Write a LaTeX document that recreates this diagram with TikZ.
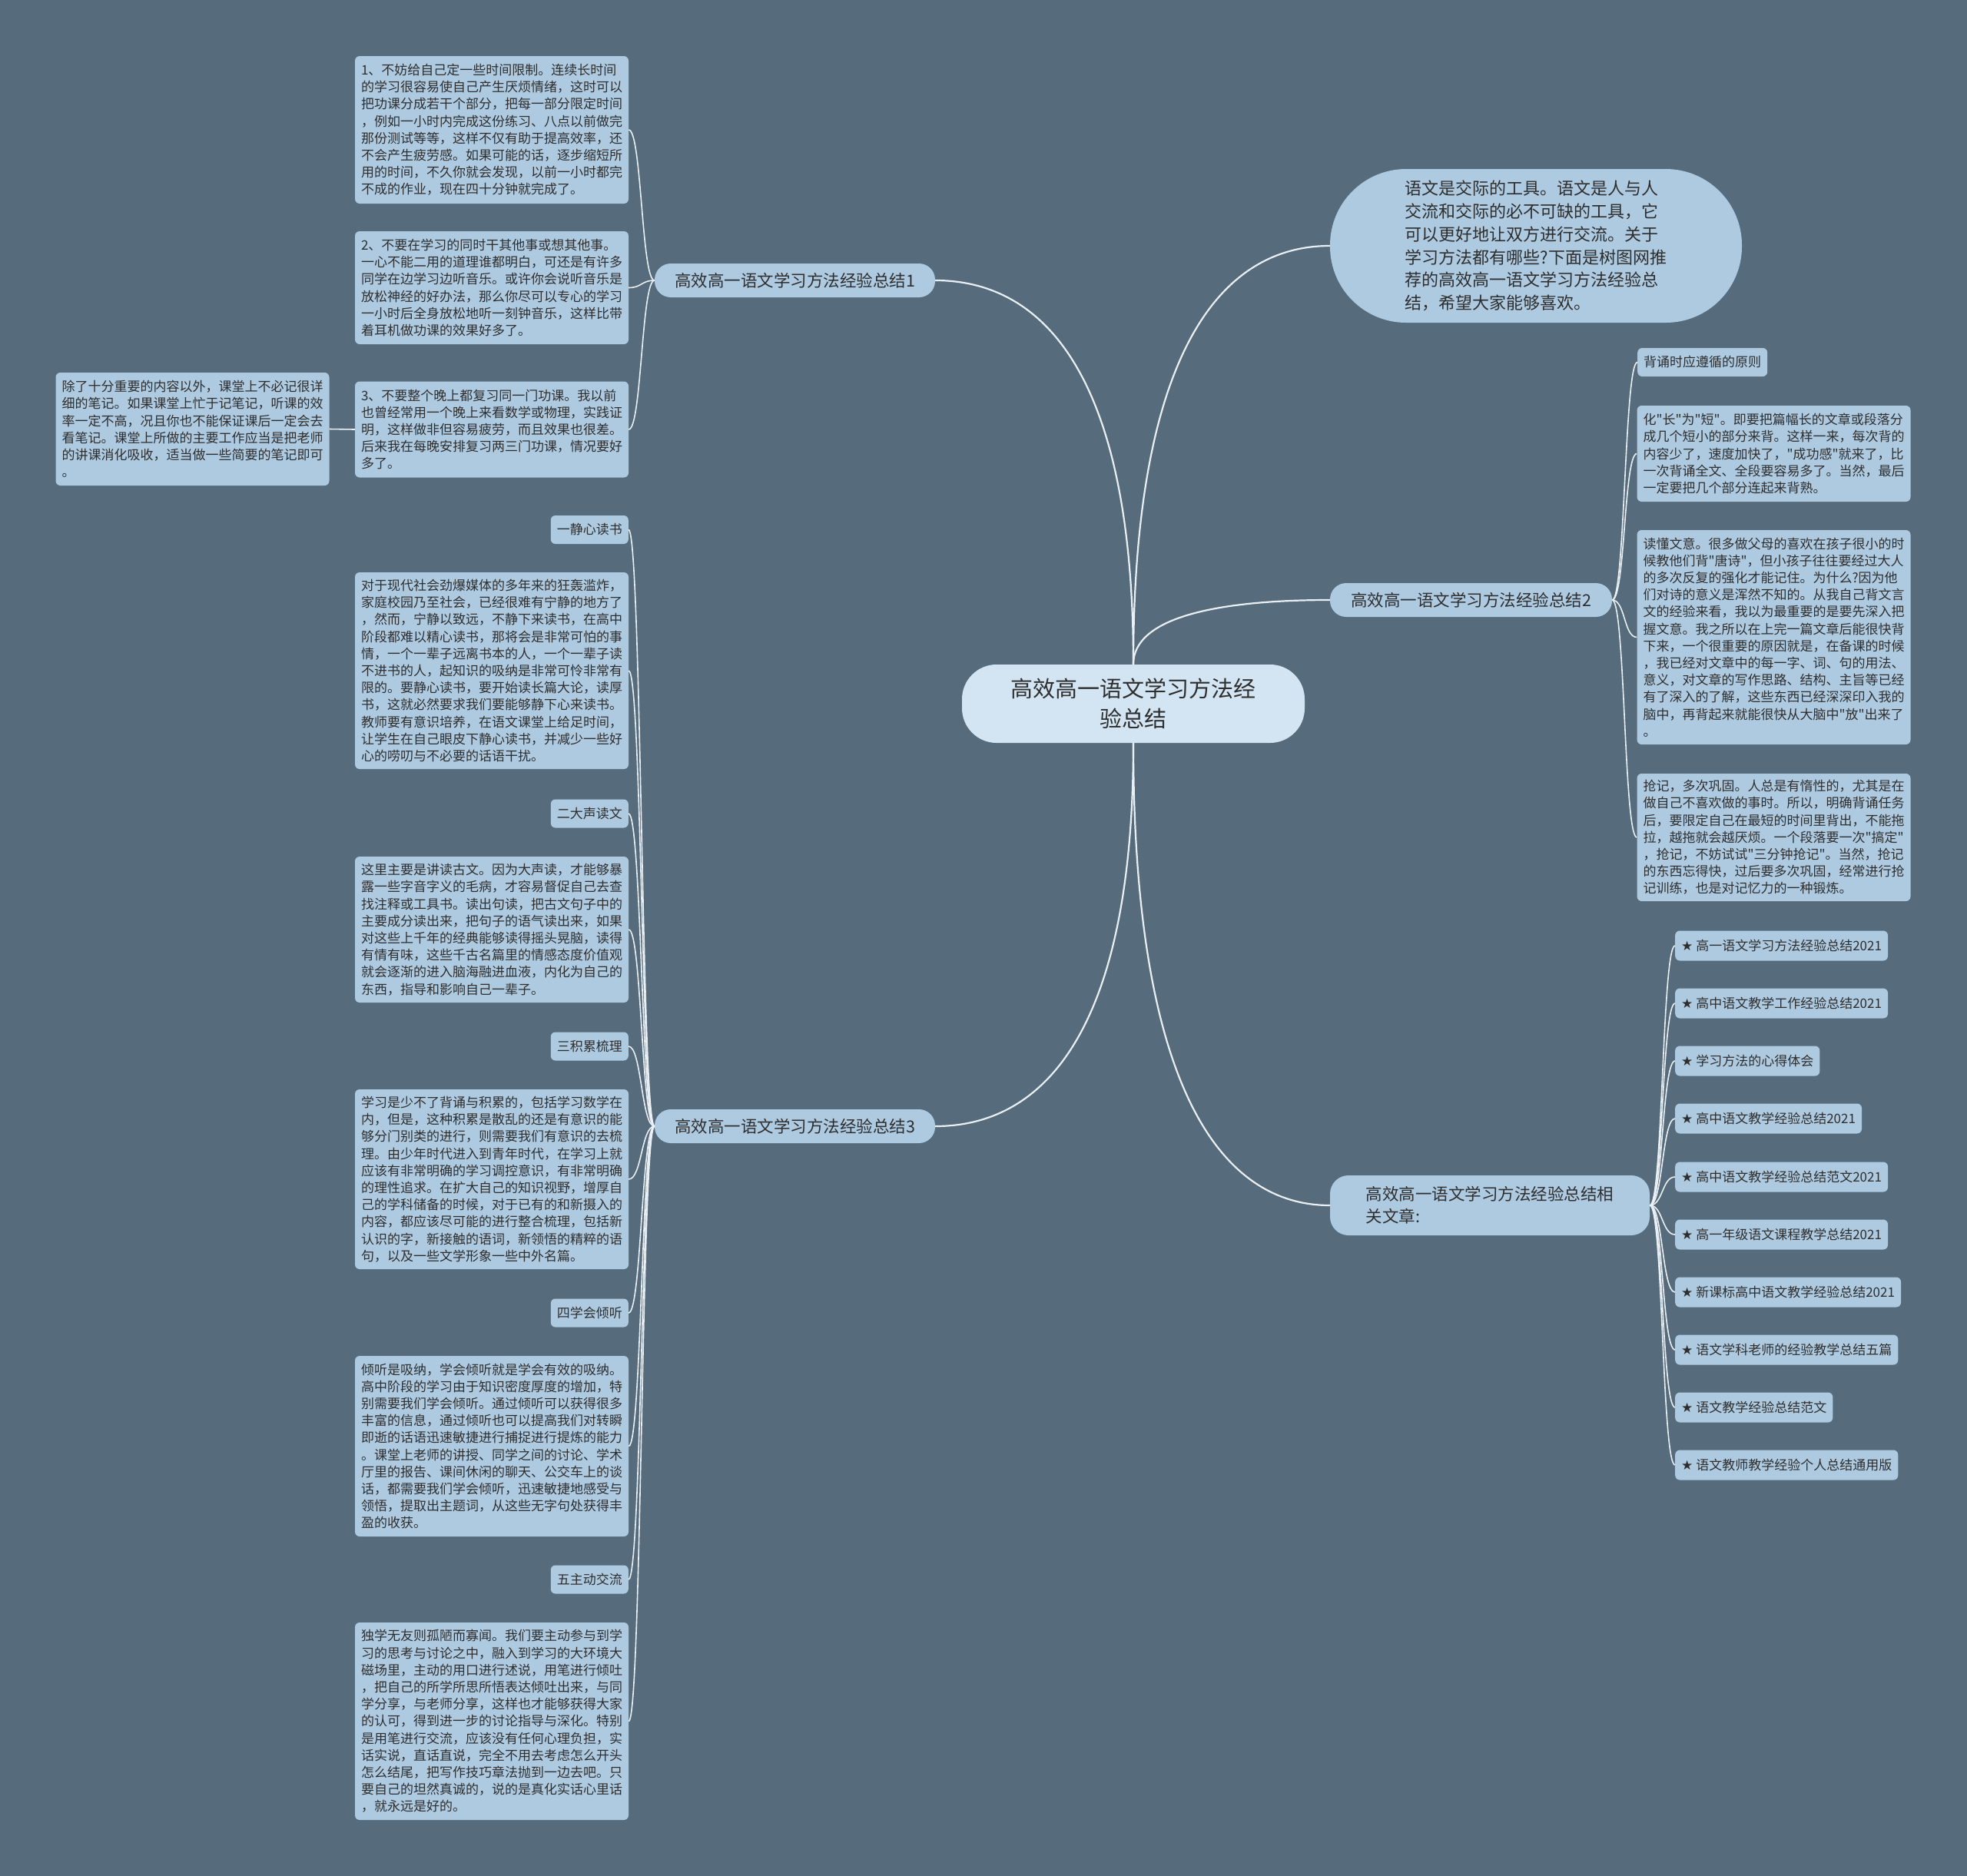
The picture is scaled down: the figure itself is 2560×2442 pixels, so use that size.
\documentclass[tikz,border=0pt]{standalone}
\usepackage{fontspec}
\setmainfont{Noto Sans CJK SC}[Ligatures=TeXOff]
\newfontfamily\symf{DejaVu Sans}
\usetikzlibrary{calc}
\definecolor{bgc}{HTML}{566B7B}
\definecolor{nodec}{HTML}{AECAE0}
\definecolor{cnode}{HTML}{D3E5F2}
\definecolor{txtc}{HTML}{2E2E2E}
\definecolor{lc}{HTML}{E9EFF3}
\begin{document}
\begin{tikzpicture}[x=1pt,y=-1pt,
  conn/.style={draw=lc, line width=2.2pt},
  conn2/.style={draw=lc, line width=1.6pt},
  leaf/.style={fill=nodec, rounded corners=6pt, text=txtc, font={\fontsize{17}{22.2}\selectfont}, align=left, inner xsep=8pt, inner ysep=0pt},
  head/.style={leaf, minimum height=37pt},
  item/.style={leaf, minimum height=39pt, anchor=west},
  branch/.style={fill=nodec, rounded corners=21pt, text=txtc, font={\fontsize{21.5}{29}\selectfont}, inner sep=0pt, align=left},
  centre/.style={fill=cnode, rounded corners=45pt, text=txtc, font={\fontsize{29}{39}\selectfont}, inner sep=0pt, align=center}
]
\fill[bgc] (0,0) rectangle (2560,2442);
\useasboundingbox (0,0) rectangle (2560,2442);

% centre
\node[centre, minimum width=446pt, minimum height=102pt] (C) at (1475,916) {高效高一语文学习方法经\\验总结};

% level 1
\node[branch, minimum width=365pt, minimum height=44pt] (B1) at (1034.5,365) {高效高一语文学习方法经验总结1};
\node[branch, minimum width=365pt, minimum height=44pt] (B3) at (1034.5,1466) {高效高一语文学习方法经验总结3};
\node[branch, minimum width=367pt, minimum height=44pt] (B2) at (1914.5,781) {高效高一语文学习方法经验总结2};
\node[branch, minimum width=416pt, minimum height=78pt, rounded corners=24pt] (B4) at (1939,1569) {高效高一语文学习方法经验总结相\\关文章:};
\node[branch, minimum width=536pt, minimum height=200pt, rounded corners=99pt, font={\fontsize{22}{29.8}\selectfont}] (IN) at (1999,320) {语文是交际的工具。语文是人与人\\交流和交际的必不可缺的工具，它\\可以更好地让双方进行交流。关于\\学习方法都有哪些?下面是树图网推\\荐的高效高一语文学习方法经验总\\结，希望大家能够喜欢。};

% B1 children
\node[leaf, minimum width=356pt, minimum height=192pt] (L1a) at (640,169) {1、不妨给自己定一些时间限制。连续长时间\\的学习很容易使自己产生厌烦情绪，这时可以\\把功课分成若干个部分，把每一部分限定时间\\，例如一小时内完成这份练习、八点以前做完\\那份测试等等，这样不仅有助于提高效率，还\\不会产生疲劳感。如果可能的话，逐步缩短所\\用的时间，不久你就会发现，以前一小时都完\\不成的作业，现在四十分钟就完成了。};
\node[leaf, minimum width=356pt, minimum height=147pt] (L1b) at (640,374.5) {2、不要在学习的同时干其他事或想其他事。\\一心不能二用的道理谁都明白，可还是有许多\\同学在边学习边听音乐。或许你会说听音乐是\\放松神经的好办法，那么你尽可以专心的学习\\一小时后全身放松地听一刻钟音乐，这样比带\\着耳机做功课的效果好多了。};
\node[leaf, minimum width=356pt, minimum height=125pt] (L1c) at (640,559) {3、不要整个晚上都复习同一门功课。我以前\\也曾经常用一个晚上来看数学或物理，实践证\\明，这样做非但容易疲劳，而且效果也很差。\\后来我在每晚安排复习两三门功课，情况要好\\多了。};
\node[leaf, minimum width=356pt, minimum height=147pt] (LL) at (250.5,558.5) {除了十分重要的内容以外，课堂上不必记很详\\细的笔记。如果课堂上忙于记笔记，听课的效\\率一定不高，况且你也不能保证课后一定会去\\看笔记。课堂上所做的主要工作应当是把老师\\的讲课消化吸收，适当做一些简要的笔记即可\\。};

% B3 children
\node[head, anchor=east] (H1) at (818,689.5) {一静心读书};
\node[leaf, minimum width=356pt, minimum height=256pt] (T1) at (640,873) {对于现代社会劲爆媒体的多年来的狂轰滥炸，\\家庭校园乃至社会，已经很难有宁静的地方了\\，然而，宁静以致远，不静下来读书，在高中\\阶段都难以精心读书，那将会是非常可怕的事\\情，一个一辈子远离书本的人，一个一辈子读\\不进书的人，起知识的吸纳是非常可怜非常有\\限的。要静心读书，要开始读长篇大论，读厚\\书，这就必然要求我们要能够静下心来读书。\\教师要有意识培养，在语文课堂上给足时间，\\让学生在自己眼皮下静心读书，并减少一些好\\心的唠叨与不必要的话语干扰。};
\node[head, anchor=east] (H2) at (818,1059) {二大声读文};
\node[leaf, minimum width=356pt, minimum height=190pt] (T2) at (640,1210) {这里主要是讲读古文。因为大声读，才能够暴\\露一些字音字义的毛病，才容易督促自己去查\\找注释或工具书。读出句读，把古文句子中的\\主要成分读出来，把句子的语气读出来，如果\\对这些上千年的经典能够读得摇头晃脑，读得\\有情有味，这些千古名篇里的情感态度价值观\\就会逐渐的进入脑海融进血液，内化为自己的\\东西，指导和影响自己一辈子。};
\node[head, anchor=east] (H3) at (818,1362) {三积累梳理};
\node[leaf, minimum width=356pt, minimum height=234pt] (T3) at (640,1535) {学习是少不了背诵与积累的，包括学习数学在\\内，但是，这种积累是散乱的还是有意识的能\\够分门别类的进行，则需要我们有意识的去梳\\理。由少年时代进入到青年时代，在学习上就\\应该有非常明确的学习调控意识，有非常明确\\的理性追求。在扩大自己的知识视野，增厚自\\己的学科储备的时候，对于已有的和新摄入的\\内容，都应该尽可能的进行整合梳理，包括新\\认识的字，新接触的语词，新领悟的精粹的语\\句，以及一些文学形象一些中外名篇。};
\node[head, anchor=east] (H4) at (818,1709) {四学会倾听};
\node[leaf, minimum width=356pt, minimum height=235pt] (T4) at (640,1882.5) {倾听是吸纳，学会倾听就是学会有效的吸纳。\\高中阶段的学习由于知识密度厚度的增加，特\\别需要我们学会倾听。通过倾听可以获得很多\\丰富的信息，通过倾听也可以提高我们对转瞬\\即逝的话语迅速敏捷进行捕捉进行提炼的能力\\。课堂上老师的讲授、同学之间的讨论、学术\\厅里的报告、课间休闲的聊天、公交车上的谈\\话，都需要我们学会倾听，迅速敏捷地感受与\\领悟，提取出主题词，从这些无字句处获得丰\\盈的收获。};
\node[head, anchor=east] (H5) at (818,2056) {五主动交流};
\node[leaf, minimum width=356pt, minimum height=257pt] (T5) at (640,2240.5) {独学无友则孤陋而寡闻。我们要主动参与到学\\习的思考与讨论之中，融入到学习的大环境大\\磁场里，主动的用口进行述说，用笔进行倾吐\\，把自己的所学所思所悟表达倾吐出来，与同\\学分享，与老师分享，这样也才能够获得大家\\的认可，得到进一步的讨论指导与深化。特别\\是用笔进行交流，应该没有任何心理负担，实\\话实说，直话直说，完全不用去考虑怎么开头\\怎么结尾，把写作技巧章法抛到一边去吧。只\\要自己的坦然真诚的，说的是真化实话心里话\\，就永远是好的。};

% B2 children
\node[head, anchor=west] (R0) at (2131,471.5) {背诵时应遵循的原则};
\node[leaf, minimum width=355pt, minimum height=125pt] (R1) at (2308.5,590.5) {化"长"为"短"。即要把篇幅长的文章或段落分\\成几个短小的部分来背。这样一来，每次背的\\内容少了，速度加快了，"成功感"就来了，比\\一次背诵全文、全段要容易多了。当然，最后\\一定要把几个部分连起来背熟。};
\node[leaf, minimum width=355pt, minimum height=279pt] (R2) at (2308.5,829.5) {读懂文意。很多做父母的喜欢在孩子很小的时\\候教他们背"唐诗"，但小孩子往往要经过大人\\的多次反复的强化才能记住。为什么?因为他\\们对诗的意义是浑然不知的。从我自己背文言\\文的经验来看，我以为最重要的是要先深入把\\握文意。我之所以在上完一篇文章后能很快背\\下来，一个很重要的原因就是，在备课的时候\\，我已经对文章中的每一字、词、句的用法、\\意义，对文章的写作思路、结构、主旨等已经\\有了深入的了解，这些东西已经深深印入我的\\脑中，再背起来就能很快从大脑中"放"出来了\\。};
\node[leaf, minimum width=355pt, minimum height=166pt] (R3) at (2308.5,1090) {抢记，多次巩固。人总是有惰性的，尤其是在\\做自己不喜欢做的事时。所以，明确背诵任务\\后，要限定自己在最短的时间里背出，不能拖\\拉，越拖就会越厌烦。一个段落要一次"搞定"\\，抢记，不妨试试"三分钟抢记"。当然，抢记\\的东西忘得快，过后要多次巩固，经常进行抢\\记训练，也是对记忆力的一种锻炼。};

% B4 children
\node[item] (A1) at (2180,1231) {{\symf ★} 高一语文学习方法经验总结2021};
\node[item] (A2) at (2180,1306) {{\symf ★} 高中语文教学工作经验总结2021};
\node[item] (A3) at (2180,1381) {{\symf ★} 学习方法的心得体会};
\node[item] (A4) at (2180,1456) {{\symf ★} 高中语文教学经验总结2021};
\node[item] (A5) at (2180,1532) {{\symf ★} 高中语文教学经验总结范文2021};
\node[item] (A6) at (2180,1607) {{\symf ★} 高一年级语文课程教学总结2021};
\node[item] (A7) at (2180,1682) {{\symf ★} 新课标高中语文教学经验总结2021};
\node[item] (A8) at (2180,1757) {{\symf ★} 语文学科老师的经验教学总结五篇};
\node[item] (A9) at (2180,1832) {{\symf ★} 语文教学经验总结范文};
\node[item] (A10) at (2180,1907) {{\symf ★} 语文教师教学经验个人总结通用版};

% centre connectors
\foreach \t/\a/\s in {B1/east/north, IN/west/north, B2/west/north, B3/east/south, B4/west/south}{
  \coordinate (k) at (C.\s |- \t.\a);
  \draw[conn] (C.\s) .. controls ($(C.\s)!0.75!(k)$) and ($(\t.\a)!0.55!(k)$) .. (\t.\a);
}

% level-1 to level-2
\foreach \c in {L1a,L1b,L1c}{
  \draw[conn2] (B1.west) .. controls +(-17,0) and +(17,0) .. (\c.east);
}
\draw[conn2] (L1c.west) .. controls +(-17,0) and +(17,0) .. (LL.east);
\foreach \c in {H1,T1,H2,T2,H3,T3,H4,T4,H5,T5}{
  \draw[conn2] (B3.west) .. controls +(-17,0) and +(17,0) .. (\c.east);
}
\foreach \c in {R0,R1,R2,R3}{
  \draw[conn2] (B2.east) .. controls +(17,0) and +(-17,0) .. (\c.west);
}
\foreach \c in {A1,A2,A3,A4,A5,A6,A7,A8,A9,A10}{
  \draw[conn2] (B4.east) .. controls +(17,0) and +(-17,0) .. (\c.west);
}
\end{tikzpicture}
\end{document}
